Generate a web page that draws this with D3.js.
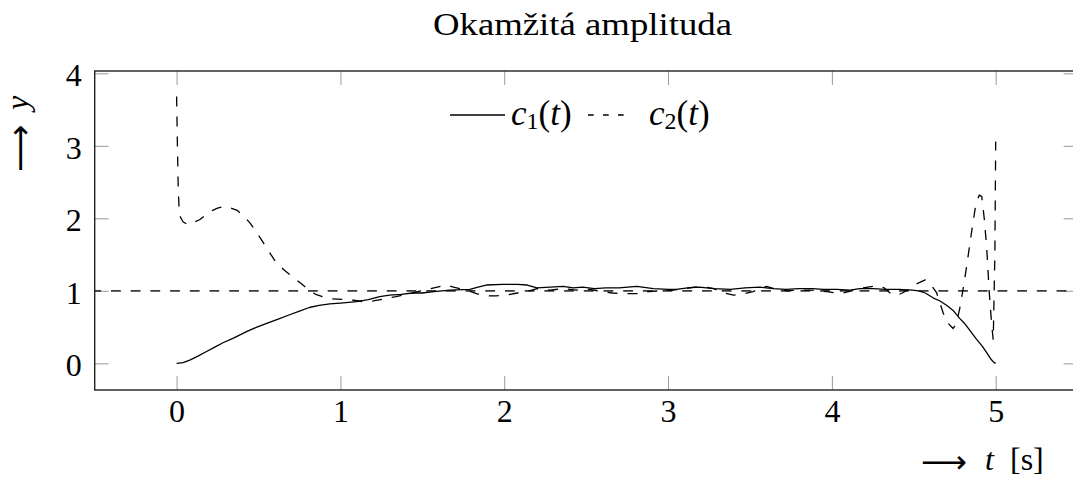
<!DOCTYPE html>
<html><head><meta charset="utf-8">
<script src="https://cdn.jsdelivr.net/npm/d3@7"></script>
<style>
html,body{margin:0;padding:0;background:#fff;}
svg{display:block;}
</style></head><body>
<svg id="chart" width="1073" height="481"></svg>
<script>
const title = "Okamžitá amplituda";
const xTicks = [0, 1, 2, 3, 4, 5];
const yTicks = [0, 1, 2, 3, 4];
const xDomain = [-0.5, 5.5];
const yDomain = [-0.368, 4.032];
const refLevel = 1;

const c1T = [0,0.04,0.08,0.13,0.18,0.23,0.28,0.35,0.43,0.49,0.55,0.62,0.69,0.75,0.81,0.87,0.935,1.0,1.10,1.17,1.24,1.30,1.37,1.44,1.50,1.57,1.67,1.79,1.84,1.89,1.99,2.08,2.14,2.20,2.28,2.36,2.42,2.48,2.55,2.62,2.70,2.81,2.91,3.00,3.05,3.12,3.19,3.28,3.38,3.47,3.56,3.64,3.72,3.80,3.88,3.95,4.03,4.11,4.17,4.25,4.33,4.41,4.49,4.53,4.57,4.62,4.66,4.70,4.74,4.78,4.81,4.84,4.88,4.92,4.95,4.97,4.99,5.0];
const c1V = [0,0.01,0.045,0.10,0.16,0.22,0.28,0.35,0.44,0.50,0.55,0.61,0.67,0.72,0.77,0.80,0.82,0.83,0.85,0.88,0.92,0.94,0.95,0.97,0.97,0.99,1.01,1.02,1.05,1.08,1.09,1.09,1.08,1.04,1.05,1.06,1.04,1.05,1.03,1.04,1.04,1.06,1.03,1.02,1.02,1.04,1.05,1.03,1.02,1.04,1.05,1.03,1.02,1.03,1.03,1.02,1.02,1.01,1.03,1.03,1.02,1.02,1.01,1.00,0.97,0.90,0.86,0.80,0.73,0.62,0.55,0.46,0.34,0.23,0.13,0.06,0.01,0.0];

const c2T = [0,0.005,0.01,0.015,0.02,0.04,0.07,0.10,0.14,0.18,0.22,0.25,0.28,0.32,0.37,0.41,0.45,0.49,0.53,0.57,0.61,0.66,0.71,0.76,0.81,0.85,0.89,0.95,1.02,1.08,1.14,1.20,1.27,1.34,1.44,1.55,1.65,1.69,1.77,1.83,1.89,1.95,2.01,2.08,2.14,2.20,2.28,2.36,2.44,2.52,2.60,2.66,2.74,2.81,2.88,2.95,3.03,3.10,3.16,3.21,3.28,3.34,3.40,3.46,3.52,3.56,3.60,3.66,3.73,3.80,3.87,3.92,3.97,4.02,4.07,4.12,4.19,4.27,4.32,4.36,4.39,4.43,4.46,4.52,4.57,4.60,4.64,4.68,4.71,4.74,4.76,4.78,4.80,4.82,4.84,4.86,4.88,4.90,4.915,4.93,4.945,4.96,4.975,4.985,4.995,5.0];
const c2V = [3.68,3.0,2.4,2.15,2.03,1.95,1.91,1.94,1.98,2.05,2.11,2.14,2.16,2.15,2.11,2.03,1.93,1.80,1.66,1.52,1.38,1.28,1.19,1.10,1.01,0.95,0.92,0.89,0.88,0.87,0.85,0.86,0.89,0.92,0.97,1.03,1.08,1.05,1.01,0.96,0.93,0.93,0.94,0.97,0.99,1.03,1.01,1.03,1.01,1.02,0.99,0.97,0.96,0.96,0.99,1.00,1.01,1.03,1.05,1.06,1.03,0.97,0.94,0.96,0.99,1.03,1.06,1.02,1.00,1.01,1.01,1.00,0.99,0.97,0.97,1.00,1.04,1.07,1.04,0.96,0.93,0.97,1.01,1.10,1.15,1.10,0.97,0.69,0.55,0.48,0.55,0.75,1.01,1.30,1.61,1.92,2.21,2.32,2.30,2.00,1.60,1.00,0.55,0.32,1.5,3.06];

const SERIF = "'Liberation Serif','Times New Roman','DejaVu Serif',serif";
const L = 94.7, R = 1077.6, T = 71, B = 390;
const svg = d3.select("#chart");
const x = d3.scaleLinear().domain(xDomain).range([L, R]);
const y = d3.scaleLinear().domain(yDomain).range([B, T]);

svg.append("defs").append("clipPath").attr("id", "clip")
  .append("rect").attr("x", L).attr("y", T).attr("width", R - L).attr("height", B - T);

function styleAxis(g) {
  g.attr("font-size", 32).attr("font-family", null);
  g.select(".domain").remove();
  g.selectAll(".tick line").attr("stroke", "#9a9a9a").attr("stroke-width", 1);
  g.selectAll("text").style("font-family", SERIF).style("font-size", "32px").attr("fill", "#000");
}

svg.append("g").attr("transform", `translate(0,${B})`)
  .call(d3.axisBottom(x).tickValues(xTicks).tickSize(-14).tickPadding(9).tickFormat(d3.format("d")))
  .call(styleAxis);
svg.append("g").attr("transform", `translate(0,${T})`)
  .call(d3.axisTop(x).tickValues(xTicks).tickSize(-14).tickFormat(""))
  .call(styleAxis);
svg.append("g").attr("transform", `translate(${L},0)`)
  .call(d3.axisLeft(y).tickValues(yTicks).tickSize(-14).tickPadding(13).tickFormat(d3.format("d")))
  .call(styleAxis)
  .selectAll("text").attr("dy", "0.39em");
svg.append("g").attr("transform", `translate(${R},0)`)
  .call(d3.axisRight(y).tickValues(yTicks).tickSize(-14).tickFormat(""))
  .call(styleAxis);

const plot = svg.append("g").attr("clip-path", "url(#clip)");

plot.append("line")
  .attr("x1", x(xDomain[0])).attr("x2", x(xDomain[1]))
  .attr("y1", y(refLevel)).attr("y2", y(refLevel))
  .attr("stroke", "#3a3a3a").attr("stroke-width", 1.7)
  .attr("stroke-dasharray", "9.8,9.9").attr("stroke-dashoffset", 3.4);

const line = d3.line().x(d => x(d[0])).y(d => y(d[1]));
const c1 = c1T.map((t, i) => [t, c1V[i]]);
const c2 = c2T.map((t, i) => [t, c2V[i]]);

plot.append("path").datum(c1).attr("d", line)
  .attr("fill", "none").attr("stroke", "#000").attr("stroke-width", 1.3)
  .attr("stroke-linejoin", "round");
plot.append("path").datum(c2).attr("d", line)
  .attr("fill", "none").attr("stroke", "#000").attr("stroke-width", 1.3)
  .attr("stroke-dasharray", "10,10").attr("stroke-linejoin", "round");

svg.append("rect").attr("x", L).attr("y", T).attr("width", R - L).attr("height", B - T)
  .attr("fill", "none").attr("stroke", "#222").attr("stroke-width", 1.4);

function txt(sel) { return sel.style("font-family", SERIF).attr("fill", "#000"); }

// title
txt(svg.append("text")).attr("x", 582.5).attr("y", 35).attr("text-anchor", "middle")
  .style("font-size", "32px").attr("textLength", 299).attr("lengthAdjust", "spacingAndGlyphs")
  .text(title);

// legend
const leg = svg.append("g");
leg.append("line").attr("x1", 450).attr("x2", 505).attr("y1", 115).attr("y2", 115)
  .attr("stroke", "#000").attr("stroke-width", 1.3);
leg.append("line").attr("x1", 588).attr("x2", 624).attr("y1", 115).attr("y2", 115)
  .attr("stroke", "#000").attr("stroke-width", 1.3).attr("stroke-dasharray", "5.7,9.3");
function legText(xp, sub) {
  const t = txt(leg.append("text")).attr("x", xp).attr("y", 125).style("font-size", "35px");
  t.append("tspan").style("font-style", "italic").text("c");
  t.append("tspan").style("font-size", "24px").attr("dy", 4).text(sub);
  t.append("tspan").attr("dy", -4).text("(");
  t.append("tspan").style("font-style", "italic").text("t");
  t.append("tspan").text(")");
}
legText(511, "1");
legText(649, "2");

// x label
svg.append("text").attr("x", 921).attr("y", 473).style("font-size", "32px")
  .style("font-family", "'DejaVu Sans'").attr("fill", "#000")
  .text("⟶");
txt(svg.append("text")).attr("x", 985).attr("y", 470).style("font-size", "32px").style("font-style", "italic").text("t");
txt(svg.append("text")).attr("x", 1010).attr("y", 470).style("font-size", "32px").text("[s]");

// y label
svg.append("text").attr("transform", "translate(31,172) rotate(-90)").style("font-size", "33px")
  .style("font-family", "'DejaVu Sans'").attr("fill", "#000")
  .text("⟶");
txt(svg.append("text")).attr("transform", "translate(28,110) rotate(-90)").style("font-size", "32px")
  .style("font-style", "italic").text("y");
</script>
</body></html>
